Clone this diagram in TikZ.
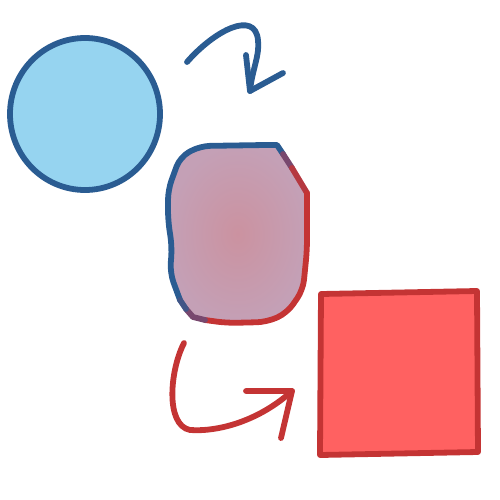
\documentclass[tikz,border=0pt]{standalone}
\usepackage{xcolor}
\definecolor{Col1}{RGB}{42,92,146}
\definecolor{Col2}{RGB}{150,212,240}
\definecolor{Col3}{RGB}{196,52,52}
\definecolor{Col4}{RGB}{255,97,97}
\definecolor{Col5}{RGB}{120,72,110}
\usepackage{tikz}
\tikzstyle{Ink}=[line width=2.9pt,line cap=round,line join=round]
\tikzstyle{BlueInk}=[Ink,draw=Col1]
\tikzstyle{RedInk}=[Ink,draw=Col3]
\begin{document}
\begin{tikzpicture}[x=0.5pt,y=-0.5pt]
        \useasboundingbox(0,0)rectangle(500,500);
        % circle
        \draw[BlueInk,fill=Col2](85,114)ellipse[x radius=75,y radius=76];
        % blue arrow
        \coordinate(a1)at(187,62);
        \coordinate(a2)at(250,91);
        \draw[BlueInk](a1)..controls(215,30)and(255,10)..(258,40)
            ..controls(260,55)and(252,70)..(a2);
        \draw[BlueInk](246,55)--(a2)--(283,73);
        % blob
        \shade[rounded corners=5pt,inner color={rgb,255:red,203;green,146;blue,160},
            outer color={rgb,255:red,196;green,160;blue,182}]
            (180,157)--(200,146)--(277,145)--(307,193)--(307,250)--(303,290)
            --(287,313)--(267,322)--(227,323)--(193,317)--(180,300)--(170,273)
            --(172,247)--(168,220)--(168,190)--cycle;
        \draw[BlueInk,rounded corners=5pt](180,300)--(170,273)--(172,247)--(168,220)
            --(168,190)--(180,157)--(200,146)--(265,145);
        \draw[Ink,draw=Col1](265,145)--(277,145)--(283,154);
        \draw[Ink,draw=Col5](283,154)--(292,168);
        \draw[Ink,draw=Col3!80!Col5](292,168)--(307,193);
        \draw[RedInk,rounded corners=5pt](307,193)--(307,250)--(303,290)--(287,313)
            --(267,322)--(227,323)--(205,320);
        \draw[Ink,draw=Col5](205,320)--(193,317)--(186,309);
        \draw[Ink,draw=Col1!70!Col5](186,309)--(180,300);
        % red arrow
        \coordinate(b1)at(184,343);
        \coordinate(b2)at(292,391);
        \draw[RedInk](b1)..controls(170,370)and(165,425)..(190,430)
            ..controls(220,432)and(260,420)..(b2);
        \draw[RedInk](246,391)--(b2)--(281,438);
        % red square
        \draw[RedInk,fill=Col4](321,294)--(477,291)--(478,452)--(320,455)--cycle;
    \end{tikzpicture}
\end{document}
